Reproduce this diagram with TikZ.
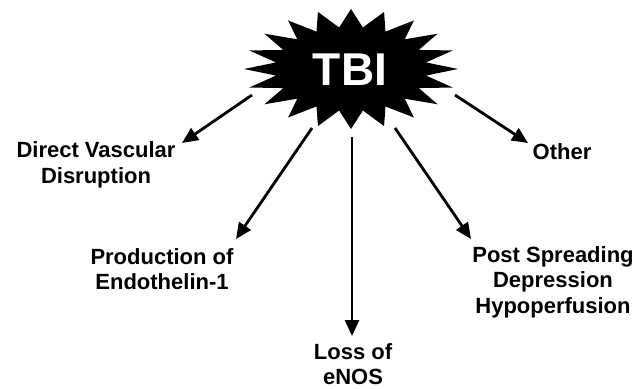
\documentclass[tikz,border=0pt]{standalone}
\usepackage{fontspec}
\setmainfont{Liberation Sans}
\usetikzlibrary{arrows.meta}
\tikzset{
  lbl/.style={font=\fontsize{22}{25.5}\selectfont\bfseries, align=center, inner sep=0pt, text=black},
  conn/.style={line width=2.8pt, -{Triangle[length=16pt,width=14pt]}, black},
}
\begin{document}
\begin{tikzpicture}[x=1pt,y=-1pt]
\useasboundingbox (0,0) rectangle (642,388);
\fill[white] (0,0) rectangle (642,388);
% starburst
\fill[black] plot[samples at={0,...,39}] ({351+ (mod(\x,2)==0 ? 107 : 76)*cos(90+\x*9)}, {69 - (mod(\x,2)==0 ? 60 : 42)*sin(90+\x*9)}) -- cycle;
\node[font=\fontsize{46}{46}\selectfont\bfseries, text=white, inner sep=0pt] (tbi) at (350,70) {TBI};
% labels
\node[lbl] (dvd) at (96,165) {Direct Vascular\\Disruption};
\node[lbl] (oth) at (562,152) {Other};
\node[lbl] (pe) at (162,269) {Production of\\Endothelin-1};
\node[lbl] (psd) at (553,282) {Post Spreading\\Depression\\Hypoperfusion};
\node[lbl] (loss) at (353,364) {Loss of\\eNOS};
% connector ends
\coordinate (s1) at (252,95);  \coordinate (t1) at (182,143);
\coordinate (s5) at (455,95);  \coordinate (t5) at (528,143);
\coordinate (s2) at (312,128); \coordinate (t2) at (236,239);
\coordinate (s4) at (395,128); \coordinate (t4) at (471,239);
\coordinate (s3) at (352,137); \coordinate (t3) at (352,336);
\draw[conn] (s1) -- (t1);
\draw[conn] (s5) -- (t5);
\draw[conn] (s2) -- (t2);
\draw[conn] (s4) -- (t4);
\draw[conn] (s3) -- (t3);
\end{tikzpicture}
\end{document}
